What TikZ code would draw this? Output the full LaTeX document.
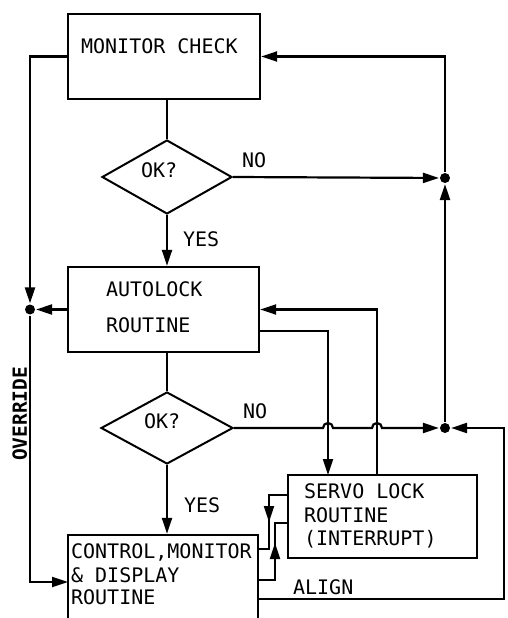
\documentclass[tikz,border=0pt]{standalone}
\usepackage{fontspec}
\newfontfamily\dmono{DejaVu Sans Mono}
\usetikzlibrary{shapes.geometric,arrows.meta}
\tikzset{
  box/.style={draw, line width=2.4pt, inner sep=0pt},
  dia/.style={draw, diamond, line width=2pt, inner sep=0pt},
  arr/.style={-{Triangle[length=16pt,width=10pt]}},
  lab/.style={anchor=base west, inner sep=0pt, font=\dmono\fontsize{20}{24}\selectfont},
  jdot/.style={fill, circle, inner sep=0pt, minimum size=10pt}
}
\begin{document}
\begin{tikzpicture}[x=1pt,y=-1pt,line width=2.2pt]
\clip (0,0) rectangle (508,618);
\fill[white] (0,0) rectangle (508,618);
% boxes
\node[box, minimum width=192pt, minimum height=85pt] (mc) at (164,56.5) {};
\node[box, minimum width=191pt, minimum height=85pt] (al) at (163.5,309.5) {};
\node[box, minimum width=189pt, minimum height=83pt] (sv) at (382.5,516.5) {};
\node[box, minimum width=190pt, minimum height=125pt] (cmd) at (163,597.5) {};
\node[dia, minimum width=130pt, minimum height=74pt] (d1) at (167,177) {};
\node[dia, minimum width=132pt, minimum height=72pt] (d2) at (167,428) {};
% texts
\node[lab] (t1) at (80,54) {MONITOR CHECK};
\node[lab] (t2) at (140,177) {OK?};
\node[lab] (t3) at (241,167) {NO};
\node[lab] (t4) at (182,246) {YES};
\node[lab] (t5) at (105,296) {AUTOLOCK};
\node[lab] (t6) at (105,332) {ROUTINE};
\node[lab] (t7) at (143,428) {OK?};
\node[lab] (t8) at (242,418) {NO};
\node[lab] (t9) at (183,512) {YES};
\node[lab] (t10) at (303,498) {SERVO LOCK};
\node[lab] (t11) at (303,522) {ROUTINE};
\node[lab] (t12) at (303,545) {(INTERRUPT)};
\node[lab] (t13) at (70,558) {CONTROL,MONITOR};
\node[lab] (t14) at (70,582) {\&~DISPLAY};
\node[lab] (t15) at (70,604) {ROUTINE};
\node[lab] (t16) at (292,594) {ALIGN};
\node[lab, font=\dmono\bfseries\fontsize{19.5}{24}\selectfont, rotate=90] (t17) at (27,462) {OVERRIDE};
% coordinates
\coordinate (j1) at (445,178);
\coordinate (j2) at (445,428);
\coordinate (j3) at (30,309.5);
\coordinate (cmdin) at (68,582);
\coordinate (alout) at (259,331);
\coordinate (svin) at (328,475);
\coordinate (svout) at (377,475);
\coordinate (svl1) at (288,495);
\coordinate (svl2) at (288,523);
\coordinate (cmdr1) at (258,549);
\coordinate (cmdr2) at (258,580);
\coordinate (alignout) at (258,599);
\coordinate (rc) at (504,599);
\coordinate (rt) at (504,428);
\coordinate (ha) at (323,428);
\coordinate (hb) at (372,428);
% junction dots
\node[jdot] (dj1) at (j1) {};
\node[jdot] (dj2) at (j2) {};
\node[jdot] (dj3) at (j3) {};
% connectors
\draw (d1.north |- mc.south) -- (d1.north);
\draw[arr] (d1.east) -- (dj1);
\draw[arr] (d1.south) -- (d1.south |- al.north);
\draw (d2.north |- al.south) -- (d2.north);
\draw[arr] (d2.south) -- (d2.south |- cmd.north);
\draw[arr] (mc.west) -| (dj3);
\draw[arr] (dj3) |- (cmdin);
\draw[arr] (al.west) -- (dj3);
\draw[arr] (dj1) |- (mc.east);
\draw[arr] (dj2) -- (dj1);
\draw[arr] (d2.east) -- (ha) arc[start angle=180, end angle=0, radius=5pt] -- (hb) arc[start angle=180, end angle=0, radius=5pt] -- (dj2);
\draw[arr] (alignout) -- (rc) -- (rt) -- (dj2);
\draw[arr] (svout) |- (al.east);
\draw[arr] (alout) -| (svin);
% servo <-> cmd
\draw (svl1) -- (269,495) -- (269,549) -- (cmdr1);
\draw[arr] (269,495) -- (269,522);
\draw (cmdr2) -- (275,580) -- (275,523) -- (svl2);
\draw[arr] (275,580) -- (275,543);
\end{tikzpicture}
\end{document}
